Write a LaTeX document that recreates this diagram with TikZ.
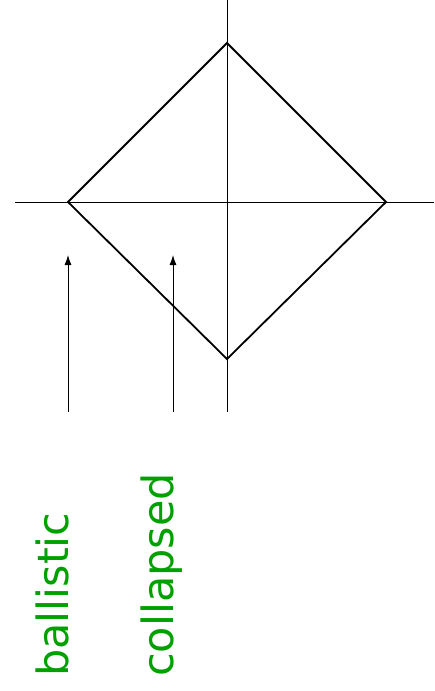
\documentclass[tikz,border=0pt]{standalone}
\usepackage{fontspec}
\setmainfont{DejaVu Sans}
\usetikzlibrary{arrows.meta}
\definecolor{labgreen}{RGB}{0,160,0}
\begin{document}
\begin{tikzpicture}[x=1pt,y=-1pt,
  axis/.style={line width=0.9pt},
  diam/.style={line width=1.8pt, line join=miter},
  arr/.style={line width=0.9pt,-{Latex[length=10pt,width=7pt]}},
  lab/.style={rotate=90, anchor=base west, text=labgreen, font=\fontsize{43}{50}\selectfont, inner sep=0pt}]
\useasboundingbox (0,0) rectangle (434,691);
\coordinate (hl) at (15,202);
\coordinate (hr) at (434,202);
\coordinate (vt) at (227,0);
\coordinate (vb) at (227,412);
\coordinate (T) at (227,43);
\coordinate (L) at (68,202);
\coordinate (R) at (386,202);
\coordinate (B) at (227,359);
\coordinate (a1s) at (68,412);
\coordinate (a1e) at (68,255);
\coordinate (a2s) at (173,412);
\coordinate (a2e) at (173,255);
\draw[axis] (hl) -- (hr);
\draw[axis] (vt) -- (vb);
\draw[diam] (T) -- (R) -- (B) -- (L) -- cycle;
\draw[arr] (a1s) -- (a1e);
\draw[arr] (a2s) -- (a2e);
\node[lab] (ball) at (68,677) {ballistic};
\node[lab] (coll) at (173,677) {collapsed};
\end{tikzpicture}
\end{document}
